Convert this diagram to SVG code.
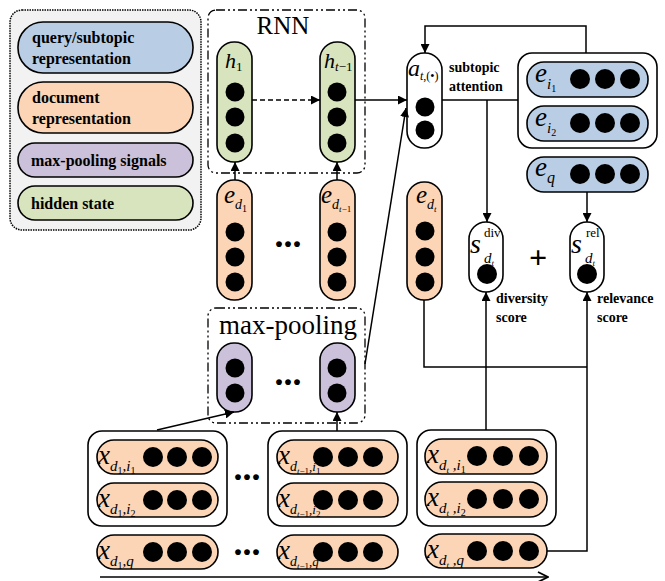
<svg xmlns="http://www.w3.org/2000/svg" width="665" height="581" viewBox="0 0 665 581">
<defs>
<style>
.n{stroke:#000;stroke-width:1.6}
.blue{fill:#b9cde5}.org{fill:#fbd5b5}.pur{fill:#ccc1da}.grn{fill:#d7e4bd}.wht{fill:#fff}
.dot{fill:#000}
.lg{font-family:"Liberation Serif",serif;font-weight:bold;font-size:16px;fill:#000}
.bl{font-family:"Liberation Serif",serif;font-weight:bold;font-size:14px;fill:#000}
.it{font-family:"Liberation Serif",serif;font-style:italic;fill:#000}
.rm{font-family:"Liberation Serif",serif;fill:#000}
.dd{font-family:"Liberation Serif",serif;font-weight:bold;font-size:36px;fill:#000;text-anchor:middle}
.c{fill:none;stroke:#000;stroke-width:1.5}
.dash{stroke-dasharray:5,3}
.dashdot{fill:none;stroke:#000;stroke-width:1.3;stroke-dasharray:9,3,2,3,2,3}
</style>
<marker id="ar" viewBox="0 0 10 10" refX="10" refY="5" markerWidth="9" markerHeight="9" markerUnits="userSpaceOnUse" orient="auto"><path d="M0,0 L10,5 L0,10 z" fill="#000"/></marker>
<marker id="op" viewBox="0 0 12 12" refX="11" refY="6" markerWidth="12" markerHeight="12" markerUnits="userSpaceOnUse" orient="auto"><path d="M1,1 L11,6 L1,11" fill="none" stroke="#000" stroke-width="1.8"/></marker>
</defs>
<rect width="665" height="581" fill="#fff"/>

<g id="legend">
<rect x="10" y="10" width="191" height="220" rx="12" fill="#f2f2f2" stroke="#000" stroke-width="1.5" stroke-dasharray="1.5,1"/>
<rect class="n blue" x="18" y="22" width="175" height="51" rx="25"/>
<text class="lg" x="32" y="43">query/subtopic</text>
<text class="lg" x="32" y="64">representation</text>
<rect class="n org" x="18" y="82" width="175" height="51" rx="25"/>
<text class="lg" x="32" y="103">document</text>
<text class="lg" x="32" y="124">representation</text>
<rect class="n pur" x="18" y="143" width="175" height="34" rx="17"/>
<text class="lg" x="31" y="166">max-pooling signals</text>
<rect class="n grn" x="18" y="186" width="175" height="34" rx="17"/>
<text class="lg" x="31" y="209">hidden state</text>
</g>

<g id="rnn">
<rect class="dashdot" x="208" y="10" width="157" height="163" rx="8"/>
<text class="rm" x="283" y="34" font-size="25" text-anchor="middle">RNN</text>
</g>

<g id="h1">
<rect class="n grn" x="217" y="42" width="35" height="120" rx="17"/>
<text class="it" x="225" y="68" font-size="22">h<tspan class="rm" font-style="normal" font-size="13" dy="3">1</tspan></text>
<circle class="dot" cx="235" cy="92" r="9.5"/><circle class="dot" cx="235" cy="117" r="9.5"/><circle class="dot" cx="235" cy="143" r="9.5"/>
</g>
<g id="ht1">
<rect class="n grn" x="320" y="42" width="35" height="120" rx="17"/>
<text class="it" x="324" y="68" font-size="22">h<tspan font-size="13" dy="3">t</tspan><tspan class="rm" font-style="normal" font-size="13">−1</tspan></text>
<circle class="dot" cx="337" cy="92" r="9.5"/><circle class="dot" cx="337" cy="117" r="9.5"/><circle class="dot" cx="337" cy="143" r="9.5"/>
</g>

<g id="ed1">
<rect class="n org" x="217" y="180" width="35" height="120" rx="17"/>
<text class="it" x="224" y="203" font-size="25">e<tspan font-size="14" dy="6">d</tspan><tspan class="rm" font-style="normal" font-size="10" dy="3">1</tspan></text>
<circle class="dot" cx="235" cy="232" r="9.5"/><circle class="dot" cx="235" cy="257" r="9.5"/><circle class="dot" cx="235" cy="282" r="9.5"/>
</g>
<text class="dd" x="288" y="247">...</text>
<g id="edt1">
<rect class="n org" x="320" y="180" width="35" height="120" rx="17"/>
<text class="it" x="321" y="203" font-size="25">e<tspan font-size="14" dy="6">d</tspan><tspan font-size="9" dy="3">t</tspan><tspan class="rm" font-style="normal" font-size="9">−1</tspan></text>
<circle class="dot" cx="337" cy="232" r="9.5"/><circle class="dot" cx="337" cy="257" r="9.5"/><circle class="dot" cx="337" cy="282" r="9.5"/>
</g>

<g id="maxpool">
<rect class="dashdot" x="208" y="308" width="157" height="115" rx="8"/>
<text class="rm" x="288" y="334" font-size="27" text-anchor="middle">max-pooling</text>
</g>
<g id="p1">
<rect class="n pur" x="217" y="343" width="35" height="69" rx="17"/>
<circle class="dot" cx="235" cy="368" r="9.5"/><circle class="dot" cx="235" cy="393" r="9.5"/>
</g>
<text class="dd" x="288" y="385">...</text>
<g id="p2">
<rect class="n pur" x="320" y="343" width="35" height="69" rx="17"/>
<circle class="dot" cx="337" cy="368" r="9.5"/><circle class="dot" cx="337" cy="393" r="9.5"/>
</g>

<g id="at">
<rect class="n wht" x="407" y="53" width="35" height="95" rx="17"/>
<text class="it" x="408" y="76" font-size="24">a<tspan font-size="12" dy="4">t</tspan><tspan class="rm" font-style="normal" font-size="12">,(•)</tspan></text>
<circle class="dot" cx="425" cy="107" r="9.5"/><circle class="dot" cx="425" cy="130" r="9.5"/>
</g>
<text class="bl" x="449" y="72">subtopic</text>
<text class="bl" x="449" y="91">attention</text>

<g id="ei">
<rect class="n wht" x="518" y="53" width="139" height="95" rx="14"/>
<rect class="n blue" x="527" y="62" width="121" height="35" rx="17"/>
<text class="it" x="535" y="82" font-size="27">e<tspan font-size="15" dy="7">i</tspan><tspan class="rm" font-style="normal" font-size="10" dy="3">1</tspan></text>
<circle class="dot" cx="580" cy="79" r="10"/><circle class="dot" cx="605" cy="79" r="10"/><circle class="dot" cx="630" cy="79" r="10"/>
<rect class="n blue" x="527" y="106" width="121" height="35" rx="17"/>
<text class="it" x="535" y="126" font-size="27">e<tspan font-size="15" dy="7">i</tspan><tspan class="rm" font-style="normal" font-size="10" dy="3">2</tspan></text>
<circle class="dot" cx="580" cy="123" r="10"/><circle class="dot" cx="605" cy="123" r="10"/><circle class="dot" cx="630" cy="123" r="10"/>
</g>
<g id="eq">
<rect class="n blue" x="527" y="157" width="121" height="35" rx="17"/>
<text class="it" x="535" y="176" font-size="27">e<tspan font-size="16" dy="7">q</tspan></text>
<circle class="dot" cx="580" cy="174" r="10"/><circle class="dot" cx="605" cy="174" r="10"/><circle class="dot" cx="630" cy="174" r="10"/>
</g>

<g id="edt">
<rect class="n org" x="407" y="182" width="35" height="118" rx="17"/>
<text class="it" x="416" y="203" font-size="25">e<tspan font-size="14" dy="6">d</tspan><tspan font-size="9" dy="3">t</tspan></text>
<circle class="dot" cx="425" cy="231" r="9.5"/><circle class="dot" cx="425" cy="257" r="9.5"/><circle class="dot" cx="425" cy="282" r="9.5"/>
</g>

<g id="sdiv">
<rect class="n wht" x="469" y="222" width="34" height="70" rx="17"/>
<text class="it" x="470" y="253" font-size="28">s</text>
<text class="rm" x="484" y="237" font-size="13">div</text>
<text class="it" x="484" y="263" font-size="15">d<tspan font-size="9" dy="3">t</tspan></text>
<circle class="dot" cx="487" cy="274" r="10"/>
</g>
<text class="rm" x="538" y="268" font-size="32" font-weight="bold" text-anchor="middle">+</text>
<g id="srel">
<rect class="n wht" x="570" y="222" width="34" height="70" rx="17"/>
<text class="it" x="571" y="253" font-size="28">s</text>
<text class="rm" x="586" y="237" font-size="13">rel</text>
<text class="it" x="585" y="263" font-size="15">d<tspan font-size="9" dy="3">t</tspan></text>
<circle class="dot" cx="587" cy="274" r="10"/>
</g>
<text class="bl" x="496" y="303">diversity</text>
<text class="bl" x="496" y="322">score</text>
<text class="bl" x="597" y="303">relevance</text>
<text class="bl" x="597" y="322">score</text>

<g id="xd1">
<rect class="n wht" x="88" y="431" width="139" height="95" rx="14"/>
<rect class="n org" x="97" y="440" width="121" height="34" rx="17"/>
<text class="it" x="98" y="464" font-size="27">x<tspan font-size="15" dy="7">d</tspan><tspan class="rm" font-style="normal" font-size="10" dy="3">1</tspan><tspan font-size="15" dy="-3">,i</tspan><tspan class="rm" font-style="normal" font-size="10" dy="3">1</tspan></text>
<circle class="dot" cx="153" cy="457" r="10"/><circle class="dot" cx="177" cy="457" r="10"/><circle class="dot" cx="202" cy="457" r="10"/>
<rect class="n org" x="97" y="483" width="121" height="34" rx="17"/>
<text class="it" x="98" y="507" font-size="27">x<tspan font-size="15" dy="7">d</tspan><tspan class="rm" font-style="normal" font-size="10" dy="3">1</tspan><tspan font-size="15" dy="-3">,i</tspan><tspan class="rm" font-style="normal" font-size="10" dy="3">2</tspan></text>
<circle class="dot" cx="153" cy="500" r="10"/><circle class="dot" cx="177" cy="500" r="10"/><circle class="dot" cx="202" cy="500" r="10"/>
</g>
<g id="xd1q">
<rect class="n org" x="97" y="535" width="121" height="34" rx="17"/>
<text class="it" x="98" y="559" font-size="27">x<tspan font-size="15" dy="7">d</tspan><tspan class="rm" font-style="normal" font-size="10" dy="3">1</tspan><tspan font-size="15" dy="-3">,q</tspan></text>
<circle class="dot" cx="153" cy="552" r="10"/><circle class="dot" cx="177" cy="552" r="10"/><circle class="dot" cx="202" cy="552" r="10"/>
</g>
<text class="dd" x="247" y="480">...</text>
<text class="dd" x="247" y="555">...</text>

<g id="xdt1">
<rect class="n wht" x="268" y="431" width="139" height="95" rx="14"/>
<rect class="n org" x="277" y="440" width="121" height="34" rx="17"/>
<text class="it" x="278" y="464" font-size="27">x<tspan font-size="14" dy="7">d</tspan><tspan font-size="9" dy="3">t</tspan><tspan class="rm" font-style="normal" font-size="9">−1</tspan><tspan font-size="13" dy="-3">,i</tspan><tspan class="rm" font-style="normal" font-size="9" dy="3">1</tspan></text>
<circle class="dot" cx="323" cy="457" r="10"/><circle class="dot" cx="348" cy="457" r="10"/><circle class="dot" cx="373" cy="457" r="10"/>
<rect class="n org" x="277" y="483" width="121" height="34" rx="17"/>
<text class="it" x="278" y="507" font-size="27">x<tspan font-size="14" dy="7">d</tspan><tspan font-size="9" dy="3">t</tspan><tspan class="rm" font-style="normal" font-size="9">−1</tspan><tspan font-size="13" dy="-3">,i</tspan><tspan class="rm" font-style="normal" font-size="9" dy="3">2</tspan></text>
<circle class="dot" cx="323" cy="500" r="10"/><circle class="dot" cx="348" cy="500" r="10"/><circle class="dot" cx="373" cy="500" r="10"/>
</g>
<g id="xdt1q">
<rect class="n org" x="277" y="535" width="121" height="34" rx="17"/>
<text class="it" x="278" y="559" font-size="27">x<tspan font-size="14" dy="7">d</tspan><tspan font-size="9" dy="3">t</tspan><tspan class="rm" font-style="normal" font-size="9">−1</tspan><tspan font-size="13" dy="-3">,q</tspan></text>
<circle class="dot" cx="323" cy="552" r="10"/><circle class="dot" cx="348" cy="552" r="10"/><circle class="dot" cx="373" cy="552" r="10"/>
</g>

<g id="xdt">
<rect class="n wht" x="417" y="430" width="139" height="96" rx="14"/>
<rect class="n org" x="425" y="439" width="122" height="35" rx="17"/>
<text class="it" x="427" y="463" font-size="27">x<tspan font-size="15" dy="7">d</tspan><tspan font-size="9" dy="3">t</tspan><tspan font-size="15" dy="-3"> ,i</tspan><tspan class="rm" font-style="normal" font-size="10" dy="3">1</tspan></text>
<circle class="dot" cx="477" cy="456" r="10"/><circle class="dot" cx="503" cy="456" r="10"/><circle class="dot" cx="529" cy="456" r="10"/>
<rect class="n org" x="425" y="482" width="122" height="35" rx="17"/>
<text class="it" x="427" y="506" font-size="27">x<tspan font-size="15" dy="7">d</tspan><tspan font-size="9" dy="3">t</tspan><tspan font-size="15" dy="-3"> ,i</tspan><tspan class="rm" font-style="normal" font-size="10" dy="3">2</tspan></text>
<circle class="dot" cx="477" cy="499" r="10"/><circle class="dot" cx="503" cy="499" r="10"/><circle class="dot" cx="529" cy="499" r="10"/>
</g>
<g id="xdtq">
<rect class="n org" x="425" y="534" width="122" height="34" rx="17"/>
<text class="it" x="427" y="558" font-size="27">x<tspan font-size="15" dy="7">d</tspan><tspan font-size="9" dy="3">t</tspan><tspan font-size="15" dy="-3"> ,q</tspan></text>
<circle class="dot" cx="477" cy="551" r="10"/><circle class="dot" cx="503" cy="551" r="10"/><circle class="dot" cx="529" cy="551" r="10"/>
</g>

<g id="connectors">
<path class="c dash" d="M252,100 H320" marker-end="url(#ar)"/>
<path class="c" d="M355,100 H407" marker-end="url(#ar)"/>
<path class="c" d="M365,364 L406,108" marker-end="url(#ar)"/>
<path class="c" d="M586,53 V26 H425 V53" marker-end="url(#ar)"/>
<path class="c" d="M442,100 H518"/>
<path class="c" d="M487,100 V222" marker-end="url(#ar)"/>
<path class="c" d="M587,192 V222" marker-end="url(#ar)"/>
<path class="c" d="M235,180 V162" marker-end="url(#ar)"/>
<path class="c" d="M337,180 V162" marker-end="url(#ar)"/>
<path class="c" d="M157,430 L234,412" marker-end="url(#ar)"/>
<path class="c" d="M337,431 V412" marker-end="url(#ar)"/>
<path class="c" d="M424,300 V367 H587"/>
<path class="c" d="M547,551 H587 V292" marker-end="url(#ar)"/>
<path class="c" d="M486,430 V292" marker-end="url(#ar)"/>
<path class="c" d="M100,577 H548" stroke-width="2" marker-end="url(#op)"/>
</g>
</svg>
